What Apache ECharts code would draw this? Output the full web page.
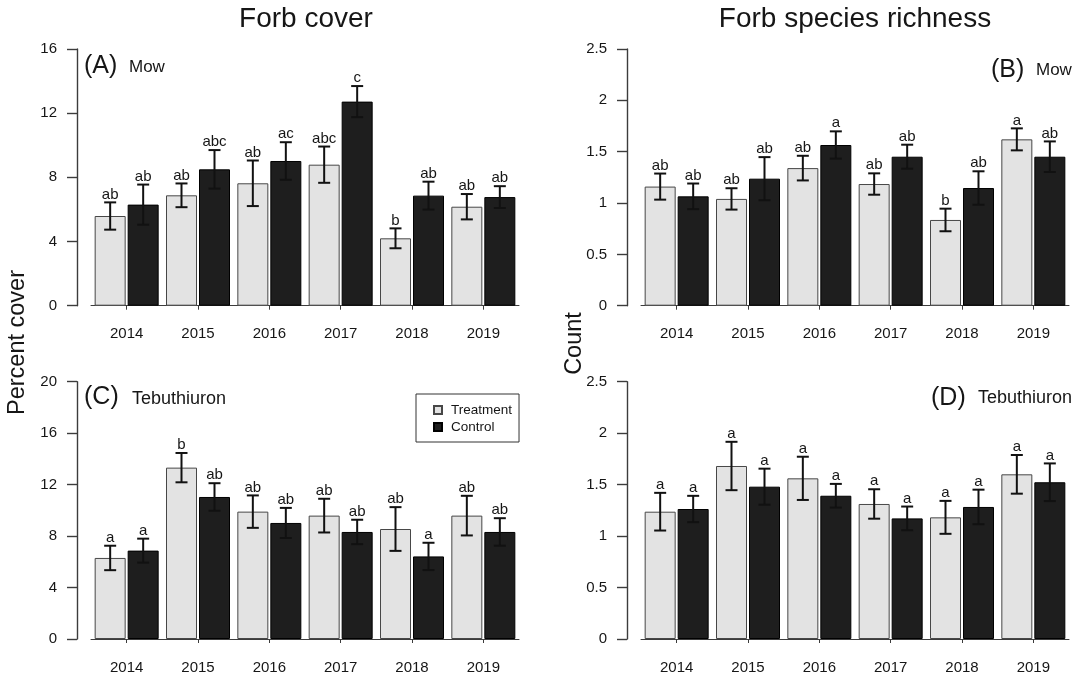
<!DOCTYPE html>
<html>
<head>
<meta charset="utf-8">
<title>Forb cover and species richness</title>
<script src="https://cdn.jsdelivr.net/npm/echarts@6/dist/echarts.min.js"></script>
<style>
  html, body { margin: 0; padding: 0; background: #ffffff; }
  #chart { width: 1088px; height: 679px; }
</style>
</head>
<body>
<div id="chart"></div>
<script>
// ---- data -------------------------------------------------------------
const years = ['2014', '2015', '2016', '2017', '2018', '2019'];

// (A) Forb cover, Mow
const coverMowTrt   = [5.59, 6.88, 7.63, 8.79, 4.20, 6.17];
const coverMowTrtSE = [0.85, 0.74, 1.42, 1.13, 0.62, 0.79];
const coverMowTrtLetters = ['ab', 'ab', 'ab', 'abc', 'b', 'ab'];
const coverMowCtl   = [6.30, 8.50, 9.02, 12.72, 6.86, 6.77];
const coverMowCtlSE = [1.25, 1.20, 1.17, 0.97, 0.87, 0.68];
const coverMowCtlLetters = ['ab', 'abc', 'ac', 'c', 'ab', 'ab'];

// (B) Forb species richness, Mow
const richMowTrt   = [1.16, 1.04, 1.34, 1.185, 0.835, 1.62];
const richMowTrtSE = [0.127, 0.104, 0.12, 0.104, 0.11, 0.107];
const richMowTrtLetters = ['ab', 'ab', 'ab', 'ab', 'b', 'a'];
const richMowCtl   = [1.065, 1.237, 1.565, 1.451, 1.146, 1.451];
const richMowCtlSE = [0.125, 0.21, 0.133, 0.117, 0.163, 0.149];
const richMowCtlLetters = ['ab', 'ab', 'a', 'ab', 'ab', 'ab'];

// (C) Forb cover, Tebuthiuron
const coverTebTrt   = [6.30, 13.32, 9.90, 9.59, 8.55, 9.59];
const coverTebTrtSE = [0.95, 1.14, 1.26, 1.31, 1.70, 1.54];
const coverTebTrtLetters = ['a', 'b', 'ab', 'ab', 'ab', 'ab'];
const coverTebCtl   = [6.87, 11.04, 9.02, 8.32, 6.42, 8.32];
const coverTebCtlSE = [0.93, 1.07, 1.17, 0.95, 1.06, 1.07];
const coverTebCtlLetters = ['a', 'ab', 'ab', 'ab', 'a', 'ab'];

// (D) Forb species richness, Tebuthiuron
const richTebTrt   = [1.237, 1.681, 1.561, 1.312, 1.182, 1.60];
const richTebTrtSE = [0.183, 0.235, 0.21, 0.143, 0.16, 0.188];
const richTebTrtLetters = ['a', 'a', 'a', 'a', 'a', 'a'];
const richTebCtl   = [1.263, 1.48, 1.392, 1.172, 1.283, 1.523];
const richTebCtlSE = [0.128, 0.175, 0.115, 0.115, 0.168, 0.183];
const richTebCtlLetters = ['a', 'a', 'a', 'a', 'a', 'a'];

const coverTicks = { A: { max: 16, interval: 4 }, C: { max: 20, interval: 4 } };
const countTicks = { max: 2.5, interval: 0.5 };

// ---- styling ----------------------------------------------------------
const FONT = '"Liberation Sans", Arial, Helvetica, sans-serif';
const INK = '#161616';
const AXIS = '#3c3c3c';
const TRT_FILL = '#e3e3e3';
const CTL_FILL = '#1e1e1e';
const BAR_W = 31;          // bar width in px
const BAR_SPACE = 2;       // space between paired bars in px
const PAIR_OFFSET = (BAR_W + BAR_SPACE) / 2;
const CAP = 6;             // half width of the error bar caps

const panels = [
  { grid: { left: 91, top: 49, width: 428, height: 256.7 }, ticks: coverTicks.A,
    trt: [coverMowTrt, coverMowTrtSE, coverMowTrtLetters], ctl: [coverMowCtl, coverMowCtlSE, coverMowCtlLetters] },
  { grid: { left: 641, top: 49, width: 428, height: 256.7 }, ticks: countTicks,
    trt: [richMowTrt, richMowTrtSE, richMowTrtLetters], ctl: [richMowCtl, richMowCtlSE, richMowCtlLetters] },
  { grid: { left: 91, top: 381.7, width: 428, height: 257.3 }, ticks: coverTicks.C,
    trt: [coverTebTrt, coverTebTrtSE, coverTebTrtLetters], ctl: [coverTebCtl, coverTebCtlSE, coverTebCtlLetters] },
  { grid: { left: 641, top: 381.7, width: 428, height: 257.3 }, ticks: countTicks,
    trt: [richTebTrt, richTebTrtSE, richTebTrtLetters], ctl: [richTebCtl, richTebCtlSE, richTebCtlLetters] }
];

// error bar with cap lines and the significance letters above it
function errorBars(offset, letters) {
  return function (params, api) {
    const i = api.value(0), v = api.value(1), se = api.value(2);
    const hi = api.coord([i, v + se]);
    const lo = api.coord([i, v - se]);
    const x = hi[0] + offset;
    const ls = { stroke: '#111', lineWidth: 2 };
    return {
      type: 'group',
      children: [
        { type: 'line', shape: { x1: x, y1: hi[1], x2: x, y2: lo[1] }, style: ls },
        { type: 'line', shape: { x1: x - CAP, y1: hi[1], x2: x + CAP, y2: hi[1] }, style: ls },
        { type: 'line', shape: { x1: x - CAP, y1: lo[1], x2: x + CAP, y2: lo[1] }, style: ls },
        { type: 'text', x: x, y: hi[1] - 0.5,
          style: { text: letters[params.dataIndex], fill: INK, font: '15px ' + FONT,
                   align: 'center', verticalAlign: 'bottom' } }
      ]
    };
  };
}

const grids = [], xAxes = [], yAxes = [], series = [];
panels.forEach((p, k) => {
  grids.push(p.grid);
  xAxes.push({
    type: 'category', gridIndex: k, data: years,
    axisLine: { show: true, lineStyle: { color: AXIS, width: 1 } },
    axisTick: { show: true, alignWithLabel: true, length: 4, lineStyle: { color: AXIS } },
    axisLabel: { color: INK, fontFamily: FONT, fontSize: 15, margin: 21 }
  });
  yAxes.push({
    type: 'value', gridIndex: k, min: 0, max: p.ticks.max, interval: p.ticks.interval,
    offset: 14,
    splitLine: { show: false },
    axisLine: { show: true, lineStyle: { color: AXIS, width: 1.4 } },
    axisTick: { show: true, length: 10, lineStyle: { color: AXIS, width: 1.4 } },
    axisLabel: { color: INK, fontFamily: FONT, fontSize: 15, margin: 20 }
  });
  series.push({
    name: 'Treatment', type: 'bar', xAxisIndex: k, yAxisIndex: k,
    data: p.trt[0], barWidth: BAR_W, barGap: (BAR_SPACE / BAR_W * 100) + '%',
    itemStyle: { color: TRT_FILL, borderColor: '#474747', borderWidth: 1 },
    emphasis: { disabled: true }, z: 2
  });
  series.push({
    name: 'Control', type: 'bar', xAxisIndex: k, yAxisIndex: k,
    data: p.ctl[0], barWidth: BAR_W, barGap: (BAR_SPACE / BAR_W * 100) + '%',
    itemStyle: { color: CTL_FILL, borderColor: '#000', borderWidth: 1 },
    emphasis: { disabled: true }, z: 2
  });
  [[p.trt, -PAIR_OFFSET], [p.ctl, PAIR_OFFSET]].forEach(([grp, off]) => {
    series.push({
      type: 'custom', xAxisIndex: k, yAxisIndex: k, z: 5, silent: true,
      renderItem: errorBars(off, grp[2]),
      encode: { x: 0, y: 1 },
      data: grp[0].map((v, i) => [i, v, grp[1][i]])
    });
  });
});

function label(x, y, txt, size, align) {
  return { type: 'text', x: x, y: y,
    style: { text: txt, fill: INK, font: size + 'px ' + FONT, align: align || 'left', verticalAlign: 'middle' } };
}

const graphics = [
  label(306, 19, 'Forb cover', 28, 'center'),
  label(855, 19, 'Forb species richness', 28, 'center'),
  { type: 'text', x: 18, y: 342.5, rotation: Math.PI / 2,
    style: { text: 'Percent cover', fill: INK, font: '23.5px ' + FONT, align: 'center', verticalAlign: 'middle' } },
  { type: 'text', x: 575, y: 343.5, rotation: Math.PI / 2,
    style: { text: 'Count', fill: INK, font: '23.5px ' + FONT, align: 'center', verticalAlign: 'middle' } },
  label(84, 66, '(A)', 25), label(129, 67.5, 'Mow', 17),
  label(991, 70, '(B)', 25), label(1036, 70, 'Mow', 17),
  label(84, 397, '(C)', 25), label(132, 399, 'Tebuthiuron', 18),
  label(931, 398.5, '(D)', 25), label(978, 398.5, 'Tebuthiuron', 18)
];

const chart = echarts.init(document.getElementById('chart'), null, { renderer: 'canvas' });
chart.setOption({
  backgroundColor: '#ffffff',
  animation: false,
  grid: grids,
  xAxis: xAxes,
  yAxis: yAxes,
  series: series,
  legend: {
    data: ['Treatment', 'Control'],
    orient: 'vertical', left: 416, top: 394,
    padding: [9, 7, 8, 17], itemGap: 3,
    itemWidth: 8, itemHeight: 8, icon: 'rect',
    borderColor: '#333', borderWidth: 1,
    selectedMode: false,
    textStyle: { color: INK, fontFamily: FONT, fontSize: 13.5, padding: [0, 0, 0, 4] }
  },
  graphic: graphics
});
</script>
</body>
</html>
